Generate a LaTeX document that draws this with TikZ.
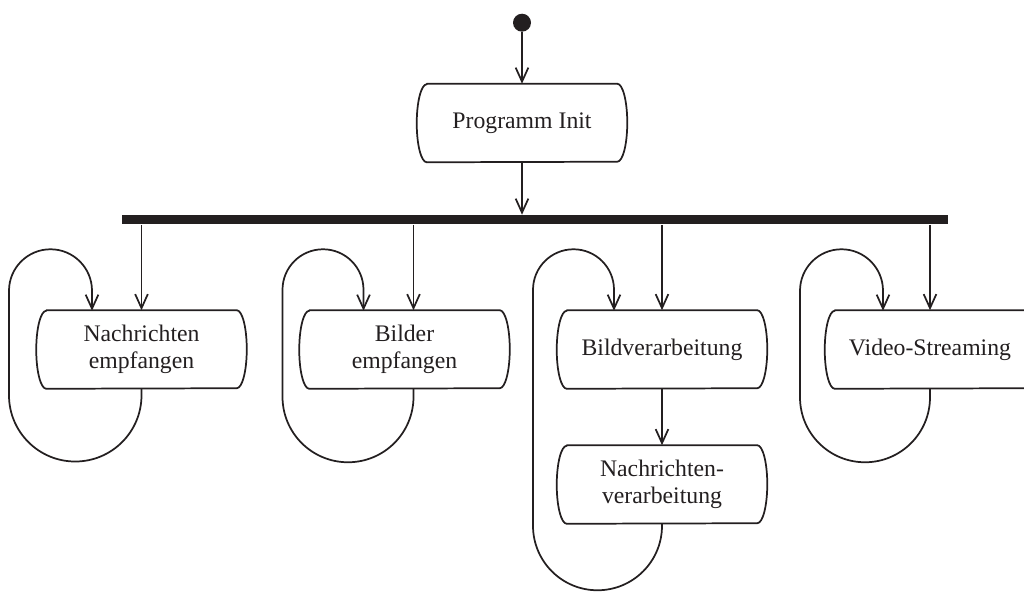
\documentclass[tikz,border=0pt]{standalone}
\usepackage{fontspec}
\setmainfont{Liberation Serif}
\usetikzlibrary{arrows.meta}
\definecolor{ink}{HTML}{231F20}
\begin{document}
\begin{tikzpicture}[x=0.75pt,y=0.75pt,
  line/.style={draw=ink, line width=1.3pt},
  arr/.style={line, -{Straight Barb[length=10.5pt,width=9.5pt]}},
  actbox/.style={inner sep=0pt, minimum width=157.5pt, minimum height=58.5pt,
    align=center, text=ink, font=\fontsize{17.8}{20}\selectfont},
  outline/.style={line, line join=round},
  startdot/.style={circle, fill=ink, inner sep=0pt, minimum size=13.5pt},
  forkbar/.style={rectangle, fill=ink, inner sep=0pt,
    minimum width=619.5pt, minimum height=7.1pt}]
\useasboundingbox (0,0) rectangle (1024,-592);
\clip (0,0) rectangle (1024,-592);

% nodes
\node[startdot] (start) at (522,-22.7) {};
\node[actbox] (init) at (522,-123) {Programm Init};
\node[forkbar] (fork) at (535,-219.75) {};
\node[actbox] (nemp) at (141.5,-349.5) {Nachrichten\\empfangen};
\node[actbox] (bemp) at (404.5,-349.5) {Bilder\\empfangen};
\node[actbox] (bv) at (662,-349.5) {Bildverarbeitung};
\node[actbox] (nv) at (662,-484.5) {Nachrichten-\\verarbeitung};
\node[actbox] (vs) at (930,-349.5) {Video-Streaming};

% action outlines: flat top and bottom, bulging sides
\foreach \n in {init,nemp,bemp,bv,nv,vs}
  \draw[outline] ([xshift=7.5pt]\n.north west) -- ([xshift=-7.5pt]\n.north east)
    arc[start angle=90, end angle=-90, x radius=7.5pt, y radius=29.25pt]
    -- ([xshift=7.5pt]\n.south west)
    arc[start angle=270, end angle=90, x radius=7.5pt, y radius=29.25pt] -- cycle;

% control flow
\draw[arr] (start) -- (init);
\draw[arr] (init) -- (init.south |- fork.north);
\draw[arr] (nemp.north |- fork.south) -- (nemp.north);
\draw[arr] ([xshift=6.75pt]bemp.north |- fork.south) -- ([xshift=6.75pt]bemp.north);
\draw[arr] (bv.north |- fork.south) -- (bv.north);
\draw[arr] (vs.north |- fork.south) -- (vs.north);
\draw[arr] (bv) -- (nv);

% repeat loops
\draw[arr] (nemp.south) -- ++(0,-6.5) arc[start angle=0, end angle=-180, radius=66.25]
  -- ++(0,104.5) arc[start angle=180, end angle=0, radius=41.5] -- ++(0,-20);
\draw[arr] ([xshift=6.75pt]bemp.south) -- ++(0,-8) arc[start angle=0, end angle=-180, radius=65.5]
  -- ++(0,107) arc[start angle=180, end angle=0, radius=40.5] -- ++(0,-21);
\draw[arr] (nv.south) -- ++(0,-2) arc[start angle=0, end angle=-180, radius=64.5]
  -- ++(0,236) arc[start angle=180, end angle=0, radius=40.5] -- ++(0,-21);
\draw[arr] (vs.south) -- ++(0,-8.5) arc[start angle=0, end angle=-180, radius=65]
  -- ++(0,106.5) arc[start angle=180, end angle=0, radius=41.5] -- ++(0,-20);
\end{tikzpicture}
\end{document}
